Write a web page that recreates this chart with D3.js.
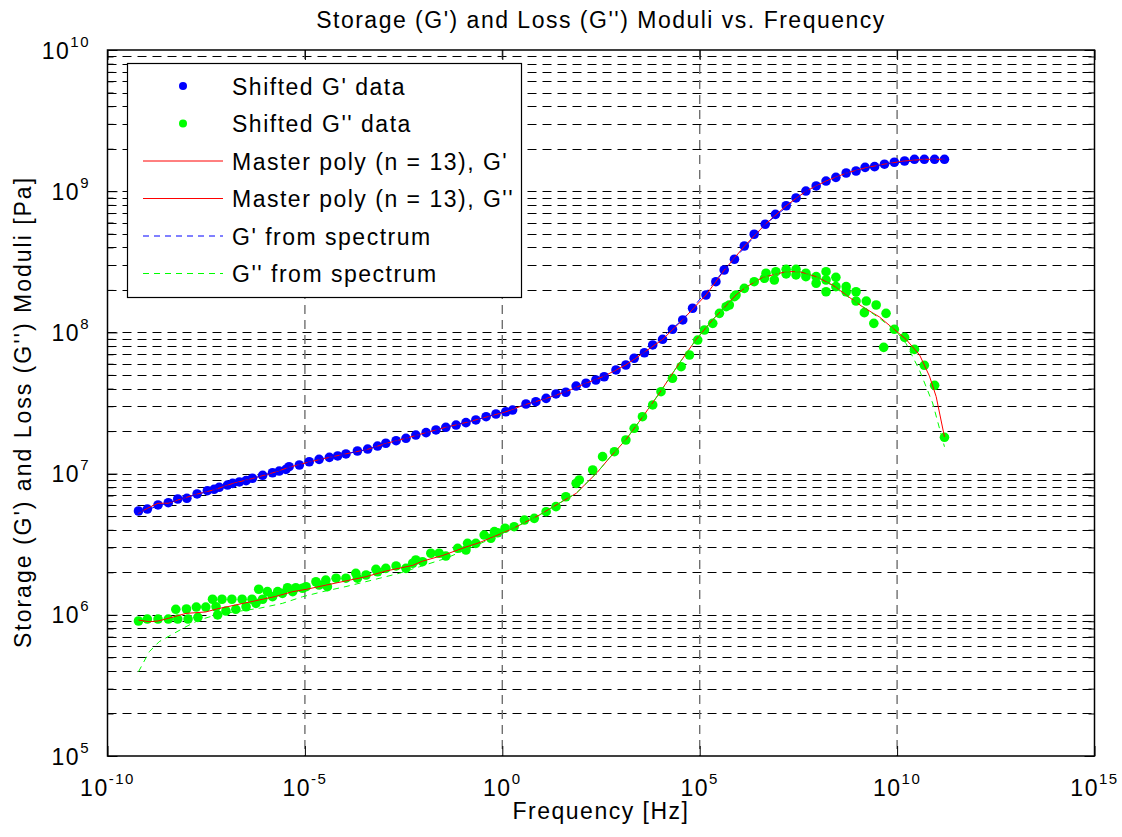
<!DOCTYPE html>
<html lang="en">
<head>
  <meta charset="UTF-8">
  <title>moduli</title>
  <script src="https://d3js.org/d3.v7.min.js"></script>
  <style>
    body { margin: 0; background: #fff; }
    svg text { font-family: "Liberation Sans", Arial, sans-serif; letter-spacing: 1.5px; fill: #000; }
  </style>
</head>
<body>
  <div id="chart"></div>
  <script>
    // every value is a decade exponent: [log10 f (Hz), log10 G (Pa)]
    var gStoreData = [[-9.215,6.735],[-8.99,6.749],[-8.72,6.778],[-8.46,6.794],[-8.22,6.820],[-7.99,6.825],[-7.73,6.856],[-7.47,6.879],[-7.30,6.889],[-7.17,6.903],
      [-6.96,6.919],[-6.83,6.931],[-6.66,6.941],[-6.49,6.950],[-6.33,6.967],[-6.07,6.988],[-5.82,7.006],[-5.65,7.018],[-5.48,7.030],[-5.40,7.049],
      [-5.14,7.061],[-4.89,7.084],[-4.64,7.101],[-4.38,7.115],[-4.17,7.125],[-3.96,7.139],[-3.67,7.160],[-3.41,7.174],[-3.16,7.195],[-2.95,7.215],
      [-2.69,7.233],[-2.44,7.250],[-2.19,7.273],[-1.93,7.290],[-1.68,7.309],[-1.43,7.328],[-1.17,7.344],[-0.92,7.361],[-0.67,7.380],[-0.41,7.403],
      [-0.16,7.422],[0.09,7.438],[0.26,7.450],[0.60,7.493],[0.85,7.509],[1.11,7.533],[1.36,7.564],[1.61,7.576],[1.87,7.620],[2.12,7.640],
      [2.37,7.663],[2.58,7.686],[2.88,7.734],[3.13,7.769],[3.34,7.817],[3.60,7.856],[3.81,7.911],[4.06,7.951],[4.31,8.022],[4.57,8.088],
      [4.82,8.171],[5.16,8.265],[5.41,8.359],[5.62,8.442],[5.88,8.518],[6.13,8.612],[6.38,8.695],[6.66,8.766],[6.92,8.836],[7.19,8.897],
      [7.44,8.952],[7.69,9.001],[7.95,9.037],[8.20,9.072],[8.45,9.098],[8.71,9.129],[8.96,9.143],[9.19,9.169],[9.43,9.174],[9.68,9.191],
      [9.93,9.205],[10.19,9.214],[10.44,9.226],[10.69,9.226],[10.95,9.226],[11.20,9.226]];

    var gLossData = [[-9.215,5.956],[-8.99,5.970],[-8.72,5.970],[-8.46,5.970],[-8.27,6.039],[-8.22,5.970],[-8.00,6.041],[-7.96,5.970],[-7.75,6.055],[-7.71,5.982],
      [-7.51,6.055],[-7.34,6.110],[-7.25,6.057],[-7.21,5.999],[-7.10,6.110],[-7.00,6.027],[-6.85,6.110],[-6.75,6.039],[-6.59,6.110],[-6.49,6.057],
      [-6.34,6.110],[-6.24,6.081],[-6.17,6.181],[-6.07,6.110],[-5.95,6.164],[-5.82,6.128],[-5.69,6.164],[-5.57,6.152],[-5.44,6.192],[-5.31,6.164],
      [-5.23,6.192],[-5.06,6.188],[-4.97,6.199],[-4.72,6.234],[-4.64,6.211],[-4.47,6.246],[-4.43,6.199],[-4.21,6.259],[-3.96,6.259],[-3.71,6.294],
      [-3.67,6.259],[-3.45,6.282],[-3.20,6.322],[-3.16,6.305],[-2.95,6.329],[-2.69,6.346],[-2.44,6.329],[-2.27,6.365],[-2.19,6.388],[-2.02,6.376],
      [-1.81,6.436],[-1.60,6.436],[-1.43,6.416],[-1.13,6.471],[-0.92,6.459],[-0.88,6.506],[-0.67,6.506],[-0.46,6.565],[-0.29,6.542],[-0.20,6.589],
      [-0.12,6.581],[0.07,6.613],[0.30,6.624],[0.56,6.671],[0.81,6.683],[1.11,6.730],[1.36,6.766],[1.61,6.836],[1.87,6.931],[1.95,6.955],
      [2.29,7.026],[2.54,7.120],[2.84,7.155],[3.13,7.238],[3.34,7.321],[3.55,7.403],[3.81,7.486],[4.02,7.580],[4.31,7.675],[4.53,7.757],
      [4.74,7.840],[4.95,7.946],[5.12,8.017],[5.33,8.064],[5.50,8.135],[5.67,8.182],[5.75,8.194],[5.88,8.253],[5.92,8.265],[6.13,8.312],
      [6.38,8.359],[6.64,8.383],[6.68,8.419],[6.89,8.371],[6.93,8.430],[7.19,8.447],[7.19,8.414],[7.44,8.447],[7.44,8.407],[7.69,8.419],
      [7.69,8.395],[7.95,8.395],[7.95,8.348],[8.20,8.430],[8.20,8.371],[8.20,8.288],[8.45,8.390],[8.45,8.324],[8.71,8.324],[8.71,8.288],
      [8.96,8.288],[8.96,8.222],[9.22,8.222],[9.17,8.140],[9.47,8.194],[9.41,8.064],[9.72,8.135],[9.66,7.894],[9.93,8.022],[10.19,7.965],
      [10.44,7.880],[10.69,7.767],[10.95,7.625],[11.20,7.257]];

    var polyStore = [[-9.215,6.719],[-8.99,6.754],[-8.72,6.79],[-8.46,6.79],[-8.22,6.813],[-7.73,6.855],[-7.30,6.885],[-6.83,6.93],[-6.33,6.965],[-5.82,7.005],
      [-5.40,7.045],[-4.89,7.082],[-4.38,7.115],[-3.96,7.14],[-3.41,7.172],[-2.95,7.213],[-2.44,7.25],[-1.93,7.29],[-1.43,7.328],[-0.92,7.362],
      [-0.41,7.40],[0.09,7.438],[0.60,7.49],[1.11,7.532],[1.61,7.58],[2.12,7.64],[2.58,7.69],[3.13,7.77],[3.60,7.86],[4.06,7.95],
      [4.57,8.09],[5.16,8.265],[5.62,8.44],[6.13,8.61],[6.66,8.765],[7.19,8.897],[7.69,9.00],[8.20,9.072],[8.71,9.128],[9.19,9.165],
      [9.68,9.192],[10.19,9.214],[10.69,9.226],[11.20,9.226]];

    var polyLoss = [[-9.215,5.963],[-8.95,5.951],[-8.72,5.956],[-8.46,5.975],[-8.01,6.01],[-7.51,6.02],[-7.25,6.04],[-6.75,6.07],[-6.24,6.10],[-5.74,6.13],
      [-5.31,6.164],[-4.97,6.18],[-4.47,6.21],[-3.96,6.24],[-3.45,6.27],[-2.95,6.31],[-2.27,6.35],[-2.02,6.38],[-1.51,6.42],[-0.92,6.48],
      [-0.59,6.51],[-0.16,6.56],[0.26,6.61],[0.94,6.707],[1.44,6.79],[1.87,6.86],[2.41,7.01],[2.71,7.11],[3.13,7.24],[3.55,7.40],
      [3.98,7.57],[4.48,7.78],[4.91,7.95],[5.33,8.09],[5.67,8.19],[5.92,8.265],[6.17,8.32],[6.60,8.39],[7.19,8.43],[7.53,8.43],
      [7.95,8.395],[8.37,8.335],[8.71,8.265],[9.13,8.18],[9.55,8.11],[9.89,8.03],[10.23,7.95],[10.57,7.84],[10.82,7.69],[10.99,7.545],
      [11.20,7.26]];

    var specStore = [[-9.215,6.725],[-8.22,6.815],[-7.30,6.885],[-6.33,6.965],[-5.40,7.045],[-4.38,7.115],[-3.41,7.172],[-2.44,7.25],[-1.43,7.328],[-0.41,7.40],
      [0.60,7.49],[1.61,7.58],[2.58,7.69],[3.60,7.86],[4.57,8.09],[5.62,8.44],[6.66,8.765],[7.69,9.00],[8.71,9.128],[9.68,9.192],
      [10.69,9.222],[11.20,9.226]];

    var specLoss = [[-9.215,5.597],[-8.94,5.739],[-8.69,5.81],[-8.39,5.857],[-8.01,5.916],[-7.68,5.963],[-7.25,5.999],[-6.75,6.022],[-6.16,6.046],[-5.57,6.081],
      [-5.06,6.128],[-4.55,6.164],[-3.96,6.20],[-3.29,6.246],[-2.61,6.294],[-2.10,6.34],[-1.43,6.40],[-0.84,6.471],[-0.25,6.542],[0.26,6.61],
      [0.94,6.707],[1.44,6.79],[1.87,6.86],[2.41,7.01],[2.71,7.11],[3.13,7.24],[3.55,7.40],[3.98,7.57],[4.48,7.78],[4.91,7.95],
      [5.33,8.09],[5.67,8.19],[6.17,8.32],[6.60,8.39],[7.19,8.43],[7.53,8.43],[7.95,8.395],[8.37,8.33],[8.71,8.26],[9.2,8.17],
      [9.6,8.09],[9.97,8.01],[10.23,7.92],[10.57,7.73],[10.90,7.50],[11.20,7.19]];

    var xTickExp = [-10, -5, 0, 5, 10, 15];
    var yTickExp = [5, 6, 7, 8, 9, 10];

    var legendItems = [
      { label: "Shifted G' data", kind: "dot", color: "#0000ff" },
      { label: "Shifted G'' data", kind: "dot", color: "#00ff00" },
      { label: "Master poly (n = 13), G'", kind: "line", color: "#ff0000" },
      { label: "Master poly (n = 13), G''", kind: "line", color: "#ff0000" },
      { label: "G' from spectrum", kind: "dash", color: "#0000ff" },
      { label: "G'' from spectrum", kind: "dash", color: "#00ff00" }
    ];

    var width = 1122, height = 837;
    var plotL = 107.5, plotR = 1094.5, plotT = 50, plotB = 756;

    var svg = d3.select("#chart").append("svg")
      .attr("width", width)
      .attr("height", height);

    var x = d3.scaleLog().domain([1e-10, 1e15]).range([plotL, plotR]);
    var y = d3.scaleLog().domain([1e5, 1e10]).range([plotB, plotT]);

    function px(d) { return x(Math.pow(10, d[0])); }
    function py(d) { return y(Math.pow(10, d[1])); }

    // all y ticks: 1..9 x 10^k plus the top decade
    var yTicks = [];
    d3.range(5, 10).forEach(function (k) {
      d3.range(1, 10).forEach(function (m) { yTicks.push(m * Math.pow(10, k)); });
    });
    yTicks.push(1e10);
    var xTicks = xTickExp.map(function (e) { return Math.pow(10, e); });

    function isDecade(v) {
      var l = Math.log10(v);
      return Math.abs(l - Math.round(l)) < 1e-9;
    }

    // grid
    var grid = svg.append("g");
    grid.selectAll(".hg").data(yTicks.slice(1, -1))
      .enter().append("line")
      .attr("x1", plotL).attr("x2", plotR)
      .attr("y1", function (d) { return Math.round(y(d)) + 0.5; })
      .attr("y2", function (d) { return Math.round(y(d)) + 0.5; })
      .attr("stroke", "#000").attr("stroke-width", 1)
      .attr("stroke-dasharray", "9,6");
    grid.selectAll(".vg").data(xTicks.slice(1, -1))
      .enter().append("line")
      .attr("x1", function (d) { return x(d); }).attr("x2", function (d) { return x(d); })
      .attr("y1", plotT).attr("y2", plotB)
      .attr("stroke", "#707070").attr("stroke-width", 1.4)
      .attr("stroke-dasharray", "9,6");

    // axes with inward ticks
    function styleAxis(g) {
      g.select(".domain").remove();
      g.selectAll(".tick line").attr("stroke", "#000").attr("stroke-width", 1);
      g.selectAll(".tick text").remove();
    }
    svg.append("g").attr("transform", "translate(0," + plotB + ")")
      .call(d3.axisBottom(x).tickValues(xTicks).tickSize(-10).tickSizeOuter(0)).call(styleAxis);
    svg.append("g").attr("transform", "translate(0," + plotT + ")")
      .call(d3.axisTop(x).tickValues(xTicks).tickSize(-10).tickSizeOuter(0)).call(styleAxis);
    var yl = svg.append("g").attr("transform", "translate(" + plotL + ",0)")
      .call(d3.axisLeft(y).tickValues(yTicks).tickSize(-10).tickSizeOuter(0)).call(styleAxis);
    yl.selectAll(".tick line").filter(function (d) { return !isDecade(d); }).attr("x2", 6);
    var yr = svg.append("g").attr("transform", "translate(" + plotR + ",0)")
      .call(d3.axisRight(y).tickValues(yTicks).tickSize(-10).tickSizeOuter(0)).call(styleAxis);
    yr.selectAll(".tick line").filter(function (d) { return !isDecade(d); }).attr("x2", -6);

    svg.append("rect")
      .attr("x", plotL).attr("y", plotT)
      .attr("width", plotR - plotL).attr("height", plotB - plotT)
      .attr("fill", "none").attr("stroke", "#000").attr("stroke-width", 1.5);

    // tick labels 10^n
    xTickExp.forEach(function (e) {
      var t = svg.append("text")
        .attr("x", x(Math.pow(10, e)))
        .attr("y", 796)
        .attr("text-anchor", "middle")
        .style("font-size", "23px");
      t.append("tspan").text("10");
      t.append("tspan").attr("dy", -12).style("font-size", "15px").text(e);
    });
    yTickExp.forEach(function (e) {
      var t = svg.append("text")
        .attr("x", 90)
        .attr("y", y(Math.pow(10, e)) + 8.5)
        .attr("text-anchor", "end")
        .style("font-size", "23px");
      t.append("tspan").text("10");
      t.append("tspan").attr("dy", -12).style("font-size", "15px").text(e);
    });

    // data
    svg.append("g").selectAll("circle").data(gStoreData)
      .enter().append("circle")
      .attr("cx", px).attr("cy", py).attr("r", 4.8)
      .attr("fill", "#0000ff");
    svg.append("g").selectAll("circle").data(gLossData)
      .enter().append("circle")
      .attr("cx", px).attr("cy", py).attr("r", 4.8)
      .attr("fill", "#00ff00");

    var line = d3.line().x(px).y(py);
    svg.append("path").datum(polyStore).attr("d", line)
      .attr("fill", "none").attr("stroke", "#ff0000").attr("stroke-width", 1);
    svg.append("path").datum(polyLoss).attr("d", line)
      .attr("fill", "none").attr("stroke", "#ff0000").attr("stroke-width", 1);
    svg.append("path").datum(specStore).attr("d", line)
      .attr("fill", "none").attr("stroke", "#0000ff").attr("stroke-width", 1)
      .attr("stroke-dasharray", "6,5");
    svg.append("path").datum(specLoss).attr("d", line)
      .attr("fill", "none").attr("stroke", "#00ff00").attr("stroke-width", 1)
      .attr("stroke-dasharray", "6,5");

    // legend
    var lg = svg.append("g");
    lg.append("rect")
      .attr("x", 127.5).attr("y", 63.5)
      .attr("width", 394).attr("height", 234)
      .attr("fill", "#fff").attr("stroke", "#000").attr("stroke-width", 1.2);
    legendItems.forEach(function (item, i) {
      var cy = 86 + i * 37.5;
      if (item.kind === "dot") {
        lg.append("circle").attr("cx", 183).attr("cy", cy).attr("r", 4)
          .attr("fill", item.color);
      } else {
        lg.append("line").attr("x1", 143).attr("x2", 223)
          .attr("y1", cy).attr("y2", cy)
          .attr("stroke", item.color).attr("stroke-width", 1)
          .attr("stroke-dasharray", item.kind === "dash" ? "6,5" : null);
      }
      lg.append("text").attr("x", 232).attr("y", cy + 8.5)
        .style("font-size", "23px").text(item.label);
    });

    // titles
    svg.append("text").attr("x", 601).attr("y", 28)
      .attr("text-anchor", "middle").style("font-size", "23px")
      .text("Storage (G') and Loss (G'') Moduli vs. Frequency");
    svg.append("text").attr("x", 601).attr("y", 819)
      .attr("text-anchor", "middle").style("font-size", "23px")
      .text("Frequency [Hz]");
    svg.append("text").attr("transform", "translate(31,412) rotate(-90)")
      .attr("text-anchor", "middle").style("font-size", "23px")
      .style("letter-spacing", "2px")
      .text("Storage (G') and Loss (G'') Moduli [Pa]");
  </script>
</body>
</html>
